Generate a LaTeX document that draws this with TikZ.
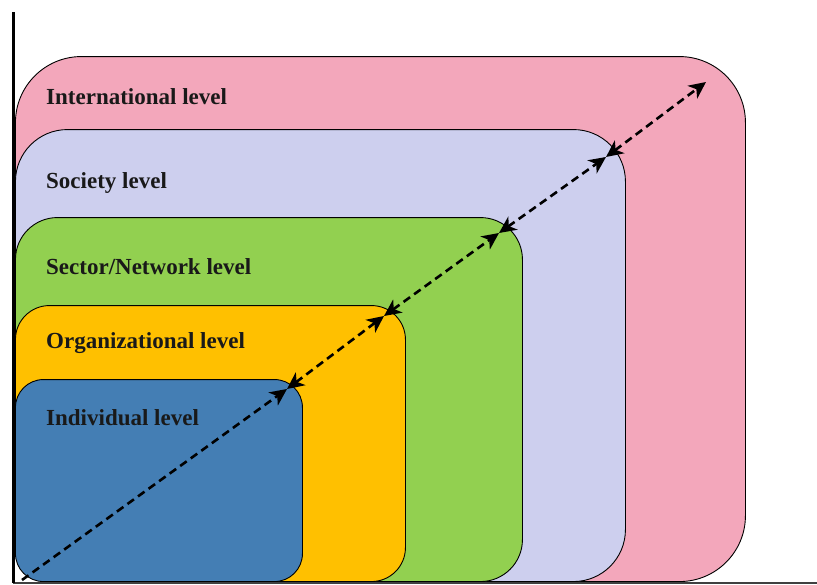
\documentclass[tikz,border=0pt]{standalone}
\usepackage{fontspec}
\setmainfont{Liberation Serif}
\usepackage{xcolor}
\usepackage{tikz}
\usetikzlibrary{positioning,calc,arrows.meta}

\definecolor{intlpink}{RGB}{243,167,187}
\definecolor{soclav}{RGB}{205,207,238}
\definecolor{secgreen}{RGB}{146,208,80}
\definecolor{orgorange}{RGB}{255,192,0}
\definecolor{indblue}{RGB}{68,126,180}

\begin{document}
\begin{tikzpicture}[
	x=1pt, y=-1pt,
	font=\bfseries\fontsize{23}{27}\selectfont,
	% các hộp cấp độ
	levelbox/.style={draw=black, line width=0.9pt, anchor=south west, inner sep=0pt},
	leveltext/.style={anchor=west, inner sep=0pt, text=black!90},
	link_arrow/.style={
		dashed, dash pattern=on 8pt off 5pt, >={Stealth[length=17pt,width=16pt,inset=5pt]},
		black, line width=2.6pt
	}
	]
	\useasboundingbox (0,0) rectangle (817,584);

	% --- CÁC HỘP ---
	\node[levelbox, fill=intlpink, rounded corners=66pt, minimum width=730pt, minimum height=525pt] (intl) at (15,582) {};
	\node[levelbox, fill=soclav, rounded corners=52pt, minimum width=610pt, minimum height=452pt] (soc) at (15,582) {};
	\node[levelbox, fill=secgreen, rounded corners=42pt, minimum width=507pt, minimum height=364pt] (sec) at (15,582) {};
	\node[levelbox, fill=orgorange, rounded corners=34pt, minimum width=390pt, minimum height=276pt] (org) at (15,582) {};
	\node[levelbox, fill=indblue, rounded corners=28pt, minimum width=287pt, minimum height=202pt] (ind) at (15,582) {};

	% --- NHÃN ---
	\node[leveltext] (intl-t) at (46,97) {International level};
	\node[leveltext] (soc-t) at (46,183) {Society level};
	\node[leveltext] (sec-t) at (46,267) {Sector/Network level};
	\node[leveltext] (org-t) at (46,343) {Organizational level};
	\node[leveltext] (ind-t) at (46,418) {Individual level};

	% --- TRỤC ---
	\coordinate (ytop) at (13,12);
	\coordinate (orig) at (13,583);
	\coordinate (xend) at (817,583);
	\draw[black!75, line width=1.6pt] (orig) -- (xend);
	\draw[black, line width=3pt] (ytop) -- (orig);

	% --- MŨI TÊN ---
	\coordinate (p0) at (22,580);
	\coordinate (p1) at (287,389);
	\coordinate (p2) at (384,316);
	\coordinate (p3) at (499,233);
	\coordinate (p4) at (606,157);
	\coordinate (p5) at (706,82);
	\draw[link_arrow, ->] (p0) -- (p1);
	\draw[link_arrow, <->] (p1) -- (p2);
	\draw[link_arrow, <->] (p2) -- (p3);
	\draw[link_arrow, <->] (p3) -- (p4);
	\draw[link_arrow, <->] (p4) -- (p5);

\end{tikzpicture}
\end{document}
